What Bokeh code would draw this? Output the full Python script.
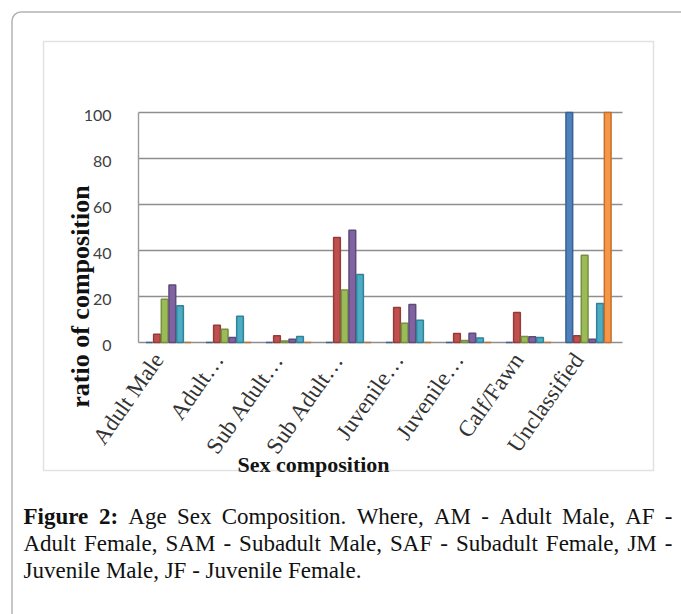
from bokeh.plotting import figure
from bokeh.models import (ColumnDataSource, Range1d, Label, BoxAnnotation,
                          FixedTicker, LinearAxis)
from bokeh.transform import dodge
from bokeh.embed import file_html
from bokeh.resources import INLINE

# ---------------- data ----------------
categories = ["Adult Male", "Adult Female", "Sub Adult Male", "Sub Adult Female",
              "Juvenile Male", "Juvenile Female", "Calf/Fawn", "Unclassified"]
tick_labels = ["Adult Male", "Adult\u2026", "Sub Adult\u2026", "Sub Adult\u2026",
               "Juvenile\u2026", "Juvenile\u2026", "Calf/Fawn", "Unclassified"]
series_names = ["s1", "s2", "s3", "s4", "s5", "s6"]
s1 = [0, 0, 0, 0, 0, 0, 0, 100]
s2 = [3.6, 7.5, 2.9, 45.6, 15.2, 3.9, 13.0, 2.9]
s3 = [18.8, 5.8, 0.7, 22.8, 8.4, 0.9, 2.6, 37.9]
s4 = [25.0, 2.2, 1.4, 48.8, 16.5, 4.0, 2.5, 1.4]
s5 = [16.0, 11.4, 2.6, 29.6, 9.7, 2.0, 2.2, 17.0]
s6 = [0, 0, 0, 0, 0, 0, 0, 100]
y_ticks = [0, 20, 40, 60, 80, 100]

colors = ["#4F81BD", "#C0504D", "#9BBB59", "#8064A2", "#4BACC6", "#F79646"]
edges = ["#3A6290", "#943C39", "#76903F", "#5F4A7A", "#358196", "#C0712F"]

n = len(categories)
xc = [i + 0.5 for i in range(n)]
src = ColumnDataSource(dict(cat=categories, xc=xc, s1=s1, s2=s2, s3=s3, s4=s4, s5=s5, s6=s6))

# ---------------- layout constants (canvas px) ----------------
W, H = 681, 614
PX0, PX1 = 138, 618      # plot area left / right
PY0, PY100 = 342, 112    # value 0 / value 100
GRID_RIGHT = 622
LABEL_SHIFT = -10          # category label anchor relative to category centre (px)
YLAB_SHIFT = 3             # tick labels sit slightly below their gridline

ux = (PX1 - PX0) / n
uy = (PY0 - PY100) / 100.0
LAB0 = PX0 + ux / 2 + LABEL_SHIFT

p = figure(width=W, height=H,
           x_range=Range1d(-PX0 / ux, n + (W - PX1) / ux),
           y_range=Range1d(-(H - PY0) / uy, 100 + PY100 / uy),
           output_backend="svg", toolbar_location=None,
           x_axis_location=None, y_axis_location=None,
           min_border=0, min_border_left=0, min_border_right=0,
           min_border_top=0, min_border_bottom=0)
p.background_fill_color = "white"
p.border_fill_color = "white"
p.outline_line_color = None
p.grid.visible = False

p.extra_x_ranges = {"lab": Range1d(-LAB0 / ux, (W - LAB0) / ux)}
d = YLAB_SHIFT / uy
p.extra_y_ranges = {"ylab": Range1d(p.y_range.start + d, p.y_range.end + d)}

# gridlines (incl. floor) and left wall
x_right = n + (GRID_RIGHT - PX1) / ux
p.segment(x0=[0] * len(y_ticks), x1=[x_right] * len(y_ticks), y0=y_ticks, y1=y_ticks,
          line_color="#8e8e8e", line_width=1.4)
p.segment(x0=[0], x1=[0], y0=[0], y1=[100], line_color="#9a9a9a", line_width=1.4)

step = 0.128
for i, name in enumerate(series_names):
    p.vbar(x=dodge("xc", (i - 2.5) * step), top=name, width=0.112,
           source=src, fill_color=colors[i], line_color=edges[i], line_width=1.5)

# y axis (fixed at x=0)
yax = LinearAxis(y_range_name="ylab", fixed_location=0, ticker=FixedTicker(ticks=y_ticks))
yax.axis_line_color = None
yax.major_tick_line_color = None
yax.minor_tick_line_color = None
yax.major_label_standoff = 21
yax.major_label_text_font = "Lato"
yax.major_label_text_font_size = "16px"
yax.major_label_text_color = "#404040"
p.add_layout(yax, "left")

# x axis with category labels (fixed at y=0)
xax = LinearAxis(x_range_name="lab", fixed_location=0,
                 ticker=FixedTicker(ticks=list(range(n))),
                 major_label_overrides={i: t for i, t in enumerate(tick_labels)})
xax.axis_line_color = None
xax.major_tick_line_color = None
xax.minor_tick_line_color = None
xax.major_label_orientation = 0.96
xax.major_label_standoff = 7
xax.major_label_text_font = "Liberation Serif"
xax.major_label_text_font_size = "23px"
xax.major_label_text_color = "#333333"
p.add_layout(xax, "below")


def sy(y):
    return H - y


# axis titles
p.add_layout(Label(x=80, y=sy(296), x_units="screen", y_units="screen",
                   text="ratio of composition", angle=1.5708, text_align="center",
                   text_baseline="middle", text_font="Liberation Serif",
                   text_font_style="bold", text_font_size="26px", text_color="#111111"))
p.add_layout(Label(x=313, y=sy(464), x_units="screen", y_units="screen",
                   text="Sex composition", text_align="center",
                   text_baseline="alphabetic", text_font="Liberation Serif",
                   text_font_style="bold", text_font_size="22px", text_color="#111111"))

# boxes
p.add_layout(BoxAnnotation(left=43, right=653, top=sy(41), bottom=sy(470),
                           left_units="screen", right_units="screen",
                           top_units="screen", bottom_units="screen",
                           fill_alpha=0, line_color="#a0a0a0", line_width=1.5))
p.add_layout(BoxAnnotation(left=11.5, right=760, top=sy(11.5), bottom=sy(760),
                           left_units="screen", right_units="screen",
                           top_units="screen", bottom_units="screen",
                           fill_alpha=0, line_color="black", line_width=1.5,
                           border_radius=9))

# caption, justified word by word (Times metrics)
REG = {' ': 250, ',': 250, '-': 333, '.': 250, ':': 278, 'A': 722, 'C': 667,
       'E': 611, 'F': 556, 'J': 389, 'M': 889, 'S': 556, 'W': 944, 'a': 444,
       'b': 500, 'c': 444, 'd': 500, 'e': 444, 'f': 333, 'g': 500, 'h': 500,
       'i': 278, 'l': 278, 'm': 778, 'n': 500, 'o': 500, 'p': 500, 'r': 333,
       's': 389, 't': 278, 'u': 500, 'v': 500, 'x': 500}
BOLD = {'F': 611, 'i': 278, 'g': 500, 'u': 556, 'r': 444, 'e': 444, ' ': 250,
        '2': 500, ':': 333}
CAP_SIZE = 23
CAP_L, CAP_R = 23, 672


def wwidth(word, bold):
    tab = BOLD if bold else REG
    return sum(tab.get(c, 500) for c in word) * CAP_SIZE / 1000.0


line1 = [("Figure", True), ("2:", True), ("Age", False), ("Sex", False),
         ("Composition.", False), ("Where,", False), ("AM", False), ("-", False),
         ("Adult", False), ("Male,", False), ("AF", False), ("-", False)]
line2 = [(w, False) for w in "Adult Female, SAM - Subadult Male, SAF - Subadult Female, JM -".split(" ")]
line3 = "Juvenile Male, JF - Juvenile Female."

for words, base in ((line1, 516), (line2, 543)):
    total = sum(wwidth(w, b) for w, b in words)
    gap = (CAP_R - CAP_L - total) / (len(words) - 1)
    x = CAP_L
    for w, b in words:
        p.add_layout(Label(x=x, y=sy(base), x_units="screen", y_units="screen",
                           text=w, text_align="left", text_baseline="alphabetic",
                           text_font="Liberation Serif", text_font_size=f"{CAP_SIZE}px",
                           text_font_style="bold" if b else "normal",
                           text_color="#111111"))
        x += wwidth(w, b) + gap

p.add_layout(Label(x=CAP_L, y=sy(570), x_units="screen", y_units="screen",
                   text=line3, text_align="left", text_baseline="alphabetic",
                   text_font="Liberation Serif", text_font_size=f"{CAP_SIZE}px",
                   text_color="#111111"))

open("out.html", "w").write(file_html(p, INLINE))
